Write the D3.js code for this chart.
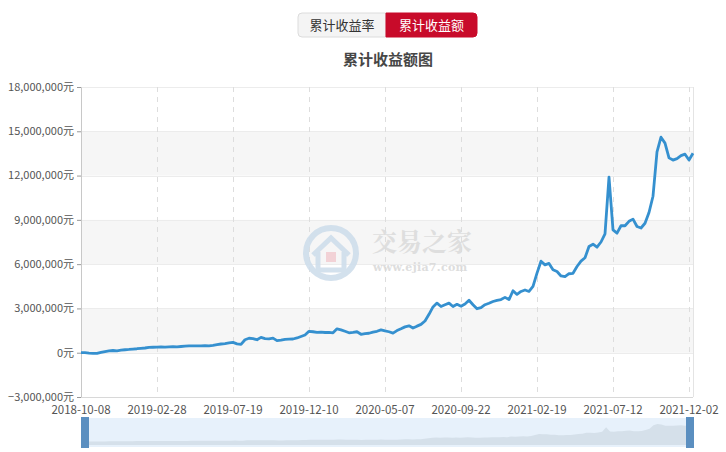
<!DOCTYPE html>
<html><head><meta charset="utf-8">
<script src="https://cdn.jsdelivr.net/npm/d3@7/dist/d3.min.js"></script>
<style>
body{margin:0;background:#fff;font-family:"Microsoft YaHei","Noto Sans CJK SC","Noto Sans",sans-serif;}
</style></head>
<body><svg id="c" width="726" height="452"></svg>
<script>
const tabLabels = ["累计收益率", "累计收益额"];
const chartTitle = "累计收益额图";
const xTickLabels = ["2018-10-08","2019-02-28","2019-07-19","2019-12-10","2020-05-07","2020-09-22","2021-02-19","2021-07-12","2021-12-02"];
const yTicks = [-3000000,0,3000000,6000000,9000000,12000000,15000000,18000000];
// cumulative profit (百万元), sampled at regular intervals of trading days
const profitM = [
 0.0,0.0,-0.03,-0.05,-0.05,0.02,0.08,0.12,0.15,0.13,
 0.17,0.2,0.22,0.25,0.27,0.3,0.32,0.36,0.37,0.38,
 0.39,0.38,0.4,0.41,0.4,0.42,0.44,0.46,0.47,0.46,
 0.47,0.48,0.47,0.5,0.55,0.59,0.62,0.66,0.7,0.6,
 0.56,0.88,0.98,0.95,0.88,1.04,0.96,0.94,0.99,0.82,
 0.85,0.9,0.92,0.93,1.0,1.1,1.2,1.45,1.42,1.38,
 1.4,1.37,1.38,1.35,1.62,1.55,1.45,1.35,1.38,1.42,
 1.25,1.3,1.32,1.4,1.45,1.55,1.48,1.42,1.33,1.5,
 1.62,1.75,1.82,1.67,1.8,1.92,2.15,2.6,3.1,3.36,
 3.13,3.25,3.36,3.13,3.28,3.15,3.3,3.55,3.25,2.98,
 3.05,3.25,3.35,3.47,3.55,3.6,3.75,3.6,4.2,3.95,
 4.15,4.25,4.15,4.49,5.39,6.2,5.95,6.05,5.62,5.5,
 5.2,5.15,5.35,5.38,5.84,6.2,6.43,7.2,7.35,7.15,
 7.5,8.05,11.89,8.32,8.1,8.6,8.6,8.9,9.05,8.55,
 8.45,8.77,9.5,10.6,13.6,14.6,14.2,13.2,13.05,13.15,
 13.35,13.45,13.05,13.51
];
const profit = profitM.map(v => v * 1000000);
const pointsPerLabel = 19;

const svg = d3.select("#c");
const L = 81, R = 693, T = 87, B = 397;
const x = d3.scaleLinear().domain([0, profit.length - 1]).range([L, R]);
const y = d3.scaleLinear().domain([-3000000, 18000000]).range([B, T]);

// tabs
const tabs = svg.append("g");
const tabX = [298, 386], tabW = [88, 91];
tabLabels.forEach((t, i) => {
  const active = i === 1;
  tabs.append("path")
    .attr("d", i === 0
      ? `M${tabX[0]+4},13 H${tabX[0]+tabW[0]} V37 H${tabX[0]+4} Q${tabX[0]},37 ${tabX[0]},33 V17 Q${tabX[0]},13 ${tabX[0]+4},13 Z`
      : `M${tabX[1]},13 H${tabX[1]+tabW[1]-4} Q${tabX[1]+tabW[1]},13 ${tabX[1]+tabW[1]},17 V33 Q${tabX[1]+tabW[1]},37 ${tabX[1]+tabW[1]-4},37 H${tabX[1]} Z`)
    .attr("fill", active ? "#c80b2a" : "#f4f4f4")
    .attr("stroke", active ? "#c80b2a" : "#dcdcdc");
  tabs.append("text").attr("x", tabX[i] + tabW[i]/2).attr("y", 30)
    .attr("text-anchor", "middle").attr("font-size", 13)
    .attr("fill", active ? "#fff" : "#333").text(t);
});

svg.append("text").attr("x", 388).attr("y", 65).attr("text-anchor", "middle")
  .attr("font-size", 15).attr("font-weight", "bold").attr("fill", "#464646").text(chartTitle);

// split areas
for (let k = 0; k < yTicks.length - 1; k++) {
  if (k % 2 === 1) {
    svg.append("rect").attr("x", L).attr("width", R - L)
      .attr("y", y(yTicks[k+1])).attr("height", y(yTicks[k]) - y(yTicks[k+1]))
      .attr("fill", "#f6f6f6");
  }
}
// horizontal split lines
svg.append("g").selectAll("line").data(yTicks).join("line")
  .attr("x1", L).attr("x2", R).attr("y1", d => Math.round(y(d)) + 0.5).attr("y2", d => Math.round(y(d)) + 0.5)
  .attr("stroke", "#ececec");
// vertical dashed lines
const labelIdx = xTickLabels.map((d, i) => i * pointsPerLabel);
svg.append("g").selectAll("line").data(labelIdx.slice(1)).join("line")
  .attr("x1", d => Math.round(x(d)) + 0.5).attr("x2", d => Math.round(x(d)) + 0.5)
  .attr("y1", T).attr("y2", B).attr("stroke", "#dddddd").attr("stroke-dasharray", "5,5");
// right border
svg.append("line").attr("x1", R + 0.5).attr("x2", R + 0.5).attr("y1", T).attr("y2", B).attr("stroke", "#e4e4e4");

// watermark
const wm = svg.append("g").attr("opacity", 0.9);
wm.append("circle").attr("cx", 331).attr("cy", 253).attr("r", 25).attr("fill", "none").attr("stroke", "#cfdeec").attr("stroke-width", 6);
wm.append("path").attr("d", "M313,255 L331,238 L349,255 M318,252 V270 H344 V252").attr("fill", "none").attr("stroke", "#cfdeec").attr("stroke-width", 5);
wm.append("rect").attr("x", 326).attr("y", 252).attr("width", 10).attr("height", 10).attr("fill", "#f2cfd3");
wm.append("text").attr("x", 372).attr("y", 251).attr("font-size", 25).attr("font-weight", "bold")
  .attr("font-family", "'Noto Serif CJK SC','Noto Sans CJK SC',serif").attr("fill", "#dcdcdc").text("交易之家");
wm.append("text").attr("x", 373).attr("y", 271).attr("font-size", 11).attr("font-weight", "bold")
  .attr("font-family", "'DejaVu Serif','Liberation Serif',serif").attr("fill", "#dadada").attr("letter-spacing", 0.3).text("www.ejia7.com");

// y axis
const yAxis = d3.axisLeft(y).tickValues(yTicks).tickSize(4).tickFormat(d => d3.format(",")(d) + "元");
const yg = svg.append("g").attr("transform", `translate(${L},0)`).call(yAxis);
yg.select(".domain").attr("stroke", "#c8c8c8");
yg.selectAll(".tick line").attr("stroke", "#999");
yg.selectAll("text").attr("font-size", 11).attr("dy", "0.3em").attr("fill", "#555").attr("font-family", "'Microsoft YaHei','Noto Sans CJK SC',sans-serif");

// x axis baseline
svg.append("line").attr("x1", L).attr("x2", R).attr("y1", B + 0.5).attr("y2", B + 0.5).attr("stroke", "#d8d8d8");
svg.append("g").selectAll("text").data(xTickLabels).join("text")
  .attr("x", (d, i) => x(labelIdx[i])).attr("y", 414).attr("text-anchor", "middle")
  .attr("font-size", 11.5).attr("fill", "#555").text(d => d);

// line
const line = d3.line().x((d, i) => x(i)).y(d => y(d)).curve(d3.curveLinear);
svg.append("path").datum(profit).attr("d", line).attr("fill", "none")
  .attr("stroke", "#3590cf").attr("stroke-width", 2.8).attr("stroke-linejoin", "round");

// data zoom slider
const zT = 418, zB = 447;
svg.append("rect").attr("x", L + 2).attr("y", zT).attr("width", R - L - 2).attr("height", zB - zT).attr("fill", "#e7f1fb");
const xs = d3.scaleLinear().domain([0, profit.length - 1]).range([L + 4, R - 4]);
const ys = d3.scaleLinear().domain([-3000000, d3.max(profit)]).range([zB - 2, zT + 6]);
const area = d3.area().x((d, i) => xs(i)).y0(zB - 2).y1(d => ys(d));
svg.append("path").datum(profit).attr("d", area).attr("fill", "#d5e0ea");
svg.append("rect").attr("x", L).attr("y", zT - 1).attr("width", 8).attr("height", zB - zT + 2).attr("fill", "#5b8fc0");
svg.append("rect").attr("x", R - 7).attr("y", zT - 1).attr("width", 8).attr("height", zB - zT + 2).attr("fill", "#5b8fc0");
</script></body></html>
